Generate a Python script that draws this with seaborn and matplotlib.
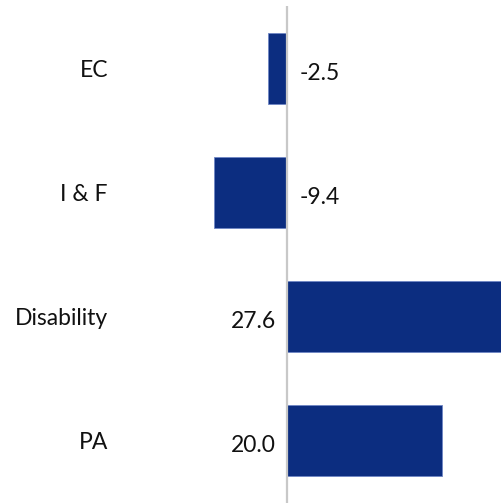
import matplotlib
matplotlib.use("Agg")
import matplotlib.pyplot as plt
import matplotlib.transforms as mtransforms
import seaborn as sns
import pandas as pd

categories = ["EC", "I & F", "Disability", "PA"]
values = [-2.5, -9.4, 27.6, 20.0]
value_labels = ["-2.5", "-9.4", "27.6", "20.0"]

sns.set_style("white")
plt.rcParams["font.family"] = ["Lato", "DejaVu Sans"]

W, H = 502, 503
fig = plt.figure(figsize=(W / 100, H / 100), dpi=100)
ax = fig.add_axes([0, 0, 1, 497 / H])

df = pd.DataFrame({"cat": categories, "val": values})
sns.barplot(data=df, x="val", y="cat", orient="h", color="#0c2d80",
            width=0.571, edgecolor="#6f86c4", linewidth=0.6, saturation=1,
            ax=ax)

s = 7.75  # pixels per unit
ax.set_xlim(-287 / s, (W - 287) / s)
ax.set_ylim(3.5, -0.5)
ax.axvline(0, color="#c8c8c8", lw=1.6, zorder=3)

for sp in ax.spines.values():
    sp.set_visible(False)
ax.set_xticks([])
ax.set_yticks([])
ax.set_xlabel("")
ax.set_ylabel("")

fs = 16.5
trans = mtransforms.blended_transform_factory(ax.transAxes, ax.transData)
for i, c in enumerate(categories):
    ax.annotate(c, (108 / W, i), xycoords=trans, xytext=(0, -2),
                textcoords="offset pixels", ha="right", va="center",
                fontsize=fs, color="#111111")

for i, (v, lab) in enumerate(zip(values, value_labels)):
    if v < 0:
        ax.annotate(lab, (0, i), xytext=(13, -5), textcoords="offset pixels",
                    ha="left", va="center", fontsize=fs, color="#111111")
    else:
        ax.annotate(lab, (0, i), xytext=(-11, -5), textcoords="offset pixels",
                    ha="right", va="center", fontsize=fs, color="#111111")

fig.savefig("out.png", dpi=100)
